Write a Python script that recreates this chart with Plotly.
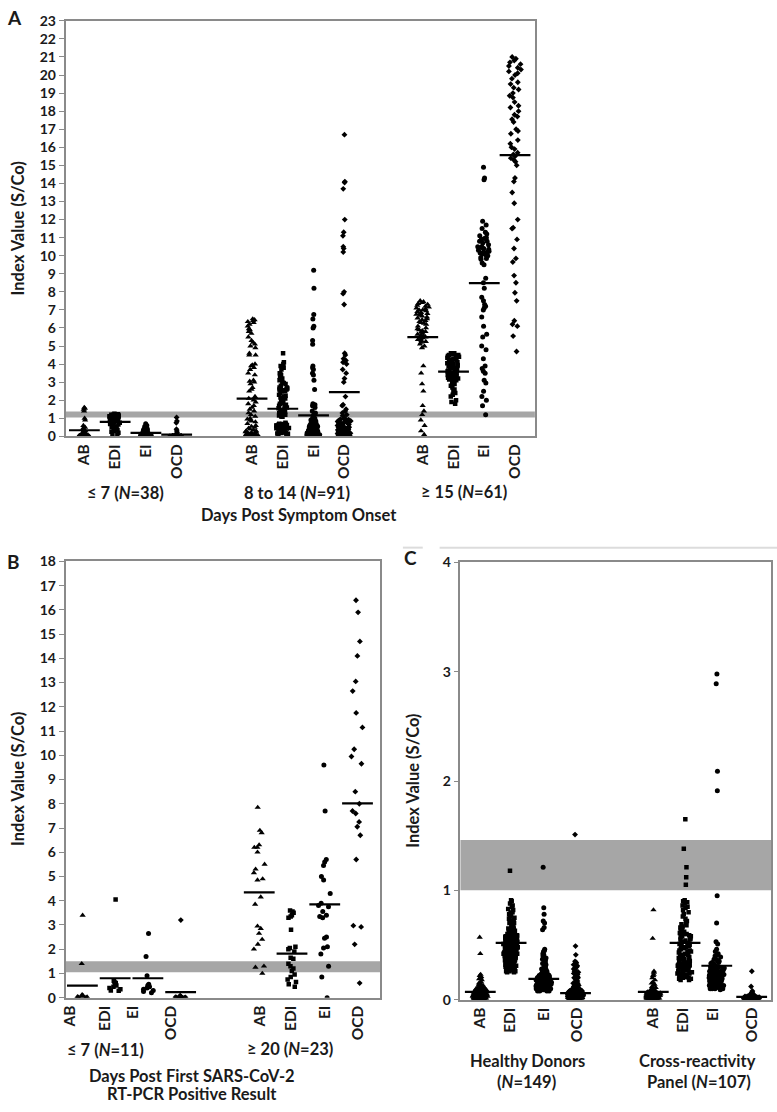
import plotly.graph_objects as go

# ---------------- DATA (Index values S/Co) ----------------
assays = ["AB", "EDI", "EI", "OCD"]

# Panel A: days post symptom onset
a7_ab = [1.6,1.55,1.5,1.4,1.0,0.9,0.6,0.5,0.45,0.4,0.35,0.3,0.3,0.25,0.2,0.2,0.15,0.15,0.1,0.1,0.1,0.08,0.07,0.06,0.05,0.05,0.04,0.04,0.03,0.03,0.03,0.02,0.02,0.02,0.01,0.01,0.01,0.0]
a7_edi = [1.25,1.22,1.2,1.2,1.18,1.15,1.12,1.1,1.1,1.05,1.0,1.0,0.98,0.95,0.95,0.92,0.9,0.88,0.85,0.82,0.8,0.78,0.75,0.7,0.68,0.65,0.6,0.55,0.5,0.48,0.45,0.4,0.35,0.3,0.25,0.2,0.15,0.1]
a7_ei = [0.7,0.6,0.55,0.5,0.45,0.42,0.4,0.35,0.32,0.3,0.28,0.25,0.25,0.22,0.2,0.2,0.18,0.18,0.15,0.15,0.14,0.12,0.12,0.1,0.1,0.1,0.08,0.08,0.07,0.06,0.05,0.05,0.05,0.04,0.04,0.03,0.03,0.02]
a7_ocd = [1.05,0.85,0.75,0.4,0.3,0.2,0.08,0.07,0.06,0.05,0.05,0.04,0.04,0.04,0.03,0.03,0.03,0.03,0.02,0.02,0.02,0.02,0.02,0.02,0.01,0.01,0.01,0.01,0.01,0.01,0.01,0.0,0.0,0.0,0.0,0.0,0.0,0.0]

a14_ab = [6.5,6.45,6.4,6.35,6.3,6.2,6.1,5.95,5.9,5.8,5.7,5.5,5.3,5.2,5.1,5.0,4.9,4.6,4.5,4.5,4.0,3.95,3.9,3.8,3.7,3.5,3.4,3.1,3.05,3.0,2.9,2.7,2.6,2.5,
          2.2,2.1,2.0,1.9,1.8,1.7,1.6,1.5,1.4,1.3,1.2,1.1,1.0,0.95,0.9,0.85,0.8,0.7,0.6,0.55,0.5,0.45,0.4,0.35,0.3,0.3,0.25,0.25,0.2,0.2,0.18,0.15,0.15,0.12,0.1,0.1,0.1,0.08,0.08,0.06,0.06,0.05,0.05,0.04,0.04,0.03,0.03,0.03,0.02,0.02,0.02,0.01,0.01,0.01,0.0,0.0,0.0]
a14_edi = [4.6,4.1,4.0,3.9,3.8,3.7,3.5,3.45,3.4,3.3,
           3.2,3.1,3.0,2.95,2.9,2.8,2.7,2.6,2.55,2.5,
           2.7,2.65,2.6,2.5,2.4,2.3,2.25,2.2,2.15,2.1,
           2.0,1.9,1.85,1.8,1.75,1.7,1.65,1.6,1.55,1.5,
           1.45,1.4,1.35,1.3,1.25,1.2,1.18,1.15,1.1,1.08,
           0.75,0.7,0.68,0.65,0.6,0.58,0.55,0.5,0.5,0.48,
           0.7,0.67,0.65,0.65,0.63,0.6,0.6,0.57,0.55,0.55,
           0.53,0.52,0.5,0.5,0.48,0.47,0.45,0.45,0.44,0.43,
           0.3,0.28,0.25,0.22,0.2,0.18,0.16,0.14,0.12,0.1,
           0.35]
a14_ei = [9.2,8.2,6.75,6.5,6.1,6.0,5.3,5.1,3.9,3.8,3.7,3.5,3.4,3.1,2.6,1.8,1.75,1.7,1.6,
          1.4,1.3,1.2,1.1,1.0,0.95,0.9,0.85,0.8,0.78,0.75,0.72,0.7,0.68,0.65,0.62,0.6,0.58,0.55,0.52,
          0.5,0.48,0.46,0.44,0.42,0.4,0.38,0.36,0.34,0.32,0.3,0.3,0.28,0.27,0.26,0.25,0.24,0.23,0.22,0.21,
          0.2,0.2,0.19,0.18,0.17,0.16,0.15,0.15,0.14,0.13,0.12,0.12,0.11,0.1,0.1,0.09,0.09,0.08,0.08,0.07,
          0.07,0.06,0.06,0.05,0.05,0.05,0.04,0.04,0.03,0.03,0.02,0.02]
a14_ocd = [16.7,14.1,14.05,13.7,12.0,11.3,11.1,10.5,10.4,10.2,8.0,7.9,7.3,
           4.6,4.5,4.3,4.2,4.1,4.0,3.7,3.5,3.2,3.0,2.2,1.75,1.7,1.5,1.4,1.3,1.2,1.15,
           1.0,0.98,0.95,0.92,0.9,0.88,0.85,0.82,0.8,0.78,0.75,0.72,0.7,0.68,0.65,0.62,0.6,0.58,0.55,0.52,
           0.5,0.5,0.48,0.46,0.45,0.44,0.42,0.4,0.38,0.36,0.35,0.34,0.32,0.3,0.3,0.28,0.27,0.26,0.25,0.24,
           0.22,0.2,0.2,0.18,0.17,0.16,0.15,0.14,0.13,0.12,0.11,0.1,0.1,0.09,0.08,0.07,0.06,0.05,0.04,0.03]

a15_ab = [7.5,7.45,7.4,7.35,7.3,7.25,7.2,7.15,7.1,7.05,7.0,7.0,6.95,6.9,6.85,6.8,6.8,6.75,6.7,6.65,
          6.6,6.55,6.5,6.45,6.4,6.35,6.3,6.25,6.2,6.1,6.0,5.95,5.9,5.85,5.8,5.75,5.7,5.65,5.6,5.55,
          5.5,5.45,5.4,5.35,5.3,5.25,5.2,5.1,5.0,4.9,
          3.9,3.5,2.9,2.5,1.7,1.4,1.2,0.9,0.6,0.3,0.1]
a15_edi = [4.6,4.6,4.55,4.5,4.5,4.45,4.4,4.4,4.35,4.3,4.3,4.25,4.2,4.2,4.15,4.1,4.1,4.05,4.0,4.0,
           3.95,3.9,3.9,3.85,3.8,3.8,3.75,3.7,3.7,3.65,3.6,3.6,3.55,3.5,3.5,3.45,3.45,3.4,3.4,3.35,
           3.35,3.3,3.3,3.25,3.25,3.2,3.2,3.15,3.1,
           3.0,2.9,2.8,2.7,2.6,2.5,2.4,2.3,2.2,2.0,1.9,1.8]
a15_ei = [14.9,14.3,14.2,11.9,11.7,11.5,11.3,11.2,11.1,11.0,10.95,10.9,10.8,10.8,10.7,10.6,10.5,10.5,10.45,10.4,
          10.35,10.3,10.25,10.2,10.2,10.15,10.1,10.05,10.0,9.9,9.85,9.8,9.6,9.5,8.75,8.5,8.2,7.7,7.5,7.3,
          7.2,7.1,7.0,6.6,6.1,5.65,5.5,5.0,4.8,4.3,3.9,3.75,3.6,3.5,3.1,2.95,2.5,2.2,2.0,1.7,1.2]
a15_ocd = [21.0,20.9,20.8,20.7,20.6,20.5,20.4,20.3,20.2,20.1,20.0,19.8,19.6,19.5,19.3,19.2,19.0,18.85,18.75,18.5,
           18.3,18.2,18.0,17.8,17.7,17.55,17.4,17.0,16.9,16.75,16.4,16.2,16.0,15.9,15.7,15.6,15.5,15.4,15.3,15.2,
           15.0,14.3,14.1,
           13.5,12.9,12.0,11.55,11.5,10.9,10.4,9.85,9.65,8.9,8.5,7.95,7.5,6.4,6.2,6.1,5.55,4.7]
a_means = [0.34,0.8,0.19,0.1, 2.09,1.53,1.16,2.45, 5.49,3.58,8.48,15.57]

# Panel B: days post first positive RT-PCR
b7_ab = [3.4,1.4,0.12,0.1,0.08,0.06,0.05,0.04,0.03,0.02,0.01]
b7_edi = [4.05,0.7,0.65,0.6,0.55,0.5,0.45,0.4,0.35,0.3,0.28]
b7_ei = [2.65,1.7,0.9,0.55,0.5,0.45,0.4,0.35,0.3,0.25,0.2]
b7_ocd = [3.2,0.08,0.06,0.05,0.04,0.03,0.02,0.02,0.01,0.01,0.0]
b20_ab = [7.85,6.9,6.8,6.3,6.2,6.2,6.0,5.5,5.3,5.15,4.9,4.85,4.15,3.85,2.95,2.85,2.65,2.4,2.2,2.0,1.3,1.25,1.0]
b20_edi = [3.6,3.55,3.5,3.4,3.35,3.3,2.8,2.1,2.05,2.0,1.9,1.65,1.6,1.4,1.3,1.2,1.1,0.95,0.85,0.75,0.65,0.55,0.45]
b20_ei = [9.6,7.7,5.7,5.6,5.45,5.0,4.85,4.3,3.9,3.8,3.75,3.55,3.4,3.35,3.3,2.5,2.45,2.1,2.05,1.8,1.3,0.85,0.0]
b20_ocd = [16.4,15.9,14.7,14.1,13.05,12.65,11.75,11.15,10.25,9.95,9.65,8.5,8.0,7.7,7.6,7.25,7.05,6.7,5.7,2.97,2.92,2.2,0.6]
b_means = [0.5,0.8,0.8,0.23, 4.34,1.82,3.85,8.02]

# Panel C: healthy donors and cross-reactivity panel
c_hd_ab = [.57,.42,.23,.22,.21,.2,.19,.18,
           .16,.15,.15,.14,.14,.13,.13,.12,.12,.12,
           .11,.11,.11,.11,.11,.11,.1,.1,.1,.1,.1,.1,
           .09,.09,.09,.09,.09,.09,.09,.09,.08,.08,.08,.08,.08,.08,.08,.08,
           .07,.07,.07,.07,.07,.07,.07,.07,.07,.07,.06,.06,.06,.06,.06,.06,.06,.06,.06,.06,
           .05,.05,.05,.05,.05,.05,.05,.05,.05,.05,.05,.05,.04,.04,.04,.04,.04,.04,.04,.04,.04,.04,.04,.04,
           .03,.03,.03,.03,.03,.03,.03,.03,.03,.03,.03,.03,.03,.03,.02,.02,.02,.02,.02,.02,.02,.02,.02,.02,.02,.02,.02,.02,
           .01,.01,.01,.01,.01,.01,.01,.01,.01,.01,.01,.01,.01,.01,.01,.01,0,0,0,0,0,0,0,0,0,0,0,0,0,0,0]
c_hd_edi = [1.18,
            .91,.9,.88,.86,.85,.83,.82,.8,.79,.78,
            .77,.76,.75,.74,.73,.72,.71,.7,.7,.69,.68,.67,.66,.65,.65,
            .64,.64,.63,.63,.62,.62,.61,.61,.6,.6,.59,.59,.58,.58,.57,.57,.56,.56,.55,.55,
            .54,.54,.53,.53,.53,.52,.52,.52,.51,.51,.5,.5,.5,.49,.49,.48,.48,.48,.47,.47,.46,.46,.46,.45,.45,
            .44,.44,.43,.43,.43,.42,.42,.42,.41,.41,.4,.4,.4,.39,.39,.38,.38,.38,.37,.37,.36,.36,.36,.35,.35,
            .34,.34,.33,.33,.33,.32,.32,.32,.31,.31,.3,.3,.3,.29,.29,.28,.28,.28,.27,.27,.26,.26,.26,.25,.25,
            .6,.59,.58,.57,.56,.55,.54,.53,.52,.51,
            .5,.5,.49,.48,.47,.46,.45,.44,.43,.42,
            .41,.4,.39,.38,.37,.36,.35,.34]
c_hd_ei = [1.21,.84,.78,.72,.7,.66,.64,
           .46,.45,.44,.42,.41,.4,.38,.37,.36,.35,
           .34,.33,.32,.31,.3,.3,.29,.28,.28,.27,.27,.26,.26,.25,.25,
           .24,.24,.24,.23,.23,.23,.22,.22,.22,.21,.21,.21,.2,.2,.2,
           .19,.19,.19,.19,.18,.18,.18,.18,.17,.17,.17,.17,.16,.16,.16,.16,.15,.15,.15,.15,
           .14,.14,.14,.14,.14,.14,.13,.13,.13,.13,.13,.13,.12,.12,.12,.12,.12,.12,
           .11,.11,.11,.11,.11,.11,.11,.11,.1,.1,.1,.1,.1,.1,.1,.1,
           .09,.09,.09,.09,.09,.09,.08,.08,.08,.08,
           .2,.2,.19,.19,.18,.18,.17,.17,.16,.16,
           .15,.15,.14,.14,.13,.13,.12,.12,.11,.11,
           .22,.21,.2,.19,.18,.17,.16,.15,.14,.13,
           .12,.12,.11,.11,.1,.1,.1,.1]
c_hd_ocd = [1.51,.49,.41,.35,.34,.33,.32,.31,.3,.29,
            .28,.27,.26,.25,.24,.23,.22,.21,.2,.2,
            .19,.18,.17,.16,.15,.15,.14,.14,.13,.13,
            .12,.12,.11,.11,.1,.1,.1,.09,.09,.09,
            .08,.08,.08,.08,.08,.08,.07,.07,.07,.07,.07,.07,.07,.07,
            .06,.06,.06,.06,.06,.06,.06,.06,.06,.06,.05,.05,.05,.05,.05,.05,.05,.05,.05,.05,.05,.05,
            .04,.04,.04,.04,.04,.04,.04,.04,.04,.04,.04,.04,.04,.04,
            .03,.03,.03,.03,.03,.03,.03,.03,.03,.03,.03,.03,.03,.03,.03,.03,
            .02,.02,.02,.02,.02,.02,.02,.02,.02,.02,.02,.02,.02,.02,.02,.02,
            .01,.01,.01,.01,.01,.01,.01,.01,.01,.01,.01,.01,.01,.01,
            0,0,0,0,0,0,0,0,0,0,0,0,0]
c_cr_ab = [.82,.56,.26,.25,.23,.22,.2,.18,.16,.15,
           .14,.13,.12,.11,.1,.1,.09,.09,.08,.08,
           .07,.07,.07,.07,.07,.07,.06,.06,.06,.06,.06,.06,.06,.06,
           .05,.05,.05,.05,.05,.05,.05,.05,.05,.05,.04,.04,.04,.04,.04,.04,.04,.04,.04,.04,.04,.04,
           .03,.03,.03,.03,.03,.03,.03,.03,.03,.03,.03,.03,.02,.02,.02,.02,.02,.02,.02,.02,.02,.02,.02,.02,.02,
           .01,.01,.01,.01,.01,.01,.01,.01,.01,.01,.01,.01,.01,0,0,0,0,0,0,0,0,0,0,0,0,0]
c_cr_edi = [1.65,1.38,1.21,1.12,1.05,
            .91,.9,.89,.88,.86,.85,.84,.82,.8,.78,
            .76,.74,.72,.7,.69,.68,.67,.66,.65,.64,
            .63,.62,.61,.6,.59,.58,.57,.56,.55,.54,
            .53,.52,.51,.5,.5,.49,.48,.47,.46,.45,
            .44,.43,.42,.41,.4,.4,.39,.38,.37,.36,
            .35,.35,.34,.34,.33,.33,.32,.32,.31,.31,
            .3,.3,.29,.29,.28,.28,.27,.27,.26,.26,
            .25,.25,.24,.24,.23,.23,.22,.22,.21,.21,
            .2,.2,.19,.19,.18,.18,.5,.55,.6,.45,.42,.38,
            .58,.52,.48,.44,.41,.37,.33,.3,.27,.24]
c_cr_ei = [2.98,2.89,2.09,1.91,.95,.7,.53,.51,.46,.44,
           .42,.41,.4,.39,.38,.37,.36,.35,.35,.34,
           .34,.33,.33,.32,.32,.31,.31,.3,.3,.29,
           .29,.28,.28,.27,.27,.26,.26,.25,.25,.24,
           .24,.23,.23,.22,.22,.21,.21,.2,.2,.19,
           .19,.18,.18,.17,.17,.16,.16,.15,.15,.14,
           .14,.13,.13,.12,.12,.11,.11,.1,.1,.09,
           .3,.29,.28,.27,.26,.25,.24,.23,.22,.21,
           .2,.19,.18,.17,.16,.15,.14,.13,.12,.11,
           .25,.24,.23,.22,.21,.2,.19,.18,.17,.16,
           .15,.14,.13,.12,.11,.1,.1]
c_cr_ocd = [.26,.12,.08,.07,.06,.06,.05,.05,.04,.04,
            .03,.03,.03,.03,.03,.03,.03,.03,.03,.03,.03,.03,.03,.03,.03,
            .02,.02,.02,.02,.02,.02,.02,.02,.02,.02,.02,.02,.02,.02,.02,.02,.02,.02,.02,.02,.02,.02,
            .01,.01,.01,.01,.01,.01,.01,.01,.01,.01,.01,.01,.01,.01,.01,.01,.01,.01,.01,.01,.01,.01,.01,.01,.01,.01,.01,.01,.01,.01,
            0,0,0,0,0,0,0,0,0,0,0,0,0,0,0,0,0,0,0,0,0,0,0,0,0,0,0,0,0,0]
c_means = [0.07,0.52,0.19,0.06, 0.07,0.52,0.31,0.025]

# grey equivocal bands per panel (low, high)
a_band = [1.05, 1.37]
b_band = [1.05, 1.5]
c_band = [1.0, 1.46]

# ---------------- LAYOUT HELPERS ----------------
W, H = 777, 1112
def px(x):
    return x / W
def py(y):
    return 1 - y / H

symbols = ["triangle-up", "square", "circle", "diamond"]
msizes = [5.5, 4.5, 5, 4.5]
FONT = "Lato"
TXT = "#1a1a1a"
LINE = "#8a8a8a"

panels = [
    dict(xa="x", ya="y",
         series=[a7_ab, a7_edi, a7_ei, a7_ocd, a14_ab, a14_edi, a14_ei, a14_ocd, a15_ab, a15_edi, a15_ei, a15_ocd],
         pos=[0, 1, 2, 3, 5.45, 6.45, 7.45, 8.45, 11, 12, 13, 14],
         tick=[0, 1, 2, 3, 5.45, 6.45, 7.45, 8.45, 11, 12, 13, 14],
         means=a_means, band=a_band, width=0.6, jitter=0.75),
    dict(xa="x2", ya="y2",
         series=[b7_ab, b7_edi, b7_ei, b7_ocd, b20_ab, b20_edi, b20_ei, b20_ocd],
         pos=[0, 1, 2, 3, 5.4, 6.4, 7.4, 8.4],
         tick=[-0.39, 0.7, 1.55, 2.7, 5.42, 6.36, 7.42, 8.42],
         means=b_means, band=b_band, width=0.6, jitter=0.7),
    dict(xa="x3", ya="y3",
         series=[c_hd_ab, c_hd_edi, c_hd_ei, c_hd_ocd, c_cr_ab, c_cr_edi, c_cr_ei, c_cr_ocd],
         pos=[0, 0.97, 2.0, 3.0, 5.45, 6.45, 7.45, 8.55],
         tick=[0, 0.92, 2.0, 3.05, 5.44, 6.4, 7.34, 8.56],
         means=c_means, band=c_band, width=0.7, jitter=0.7),
]

fig = go.Figure()
shapes = []
for p in panels:
    for i, vals in enumerate(p["series"]):
        k = i % 4
        fig.add_trace(go.Box(
            y=vals, x0=p["pos"][i], xaxis=p["xa"], yaxis=p["ya"],
            boxpoints="all", jitter=p["jitter"], pointpos=0, width=p["width"],
            fillcolor="rgba(0,0,0,0)", line=dict(width=0, color="rgba(0,0,0,0)"),
            marker=dict(symbol=symbols[k], size=msizes[k], color="black", line=dict(width=0)),
            name=assays[k], showlegend=False, hoverinfo="y"))
    fig.add_trace(go.Scatter(
        x=p["pos"], y=p["means"], xaxis=p["xa"], yaxis=p["ya"], mode="markers",
        marker=dict(symbol="line-ew", size=22, line=dict(width=2.2, color="black")),
        showlegend=False, hoverinfo="y"))
    shapes.append(dict(type="rect", xref=p["xa"] + " domain", yref=p["ya"],
                       x0=0, x1=1, y0=p["band"][0], y1=p["band"][1],
                       fillcolor="#a6a6a6", line=dict(width=0), layer="below"))

# separator line near panel C
shapes.append(dict(type="line", xref="paper", yref="paper", x0=px(437), x1=px(777), y0=py(547), y1=py(547),
                   line=dict(color="#dcdcdc", width=2)))
shapes.append(dict(type="line", xref="paper", yref="paper", x0=px(400), x1=px(420), y0=py(547), y1=py(547),
                   line=dict(color="#dcdcdc", width=2)))

def xaxis_cfg(dom, rng, tickvals, anchor):
    return dict(domain=dom, range=rng, type="linear", anchor=anchor,
                tickmode="array", tickvals=tickvals, ticktext=assays * (len(tickvals) // 4),
                tickangle=-90, ticks="", showgrid=False, zeroline=False,
                showline=True, mirror=True, linecolor=LINE, linewidth=1.5,
                tickfont=dict(family=FONT, size=15.5, color=TXT, weight="bold"))

def yaxis_cfg(dom, rng, anchor):
    return dict(domain=dom, range=rng, anchor=anchor, dtick=1, tick0=0,
                ticks="outside", ticklen=5, tickcolor=LINE, tickwidth=1,
                showgrid=False, zeroline=False, showline=True, mirror=True,
                linecolor=LINE, linewidth=1.5,
                tickfont=dict(family=FONT, size=14, color=TXT, weight="bold"))

fig.update_layout(
    width=W, height=H, margin=dict(l=0, r=0, t=0, b=0),
    paper_bgcolor="white", plot_bgcolor="white", showlegend=False,
    font=dict(family=FONT, color=TXT),
    xaxis=xaxis_cfg([px(60), px(533)], [-0.613, 14.645], panels[0]["tick"], "y"),
    yaxis=yaxis_cfg([py(434), py(12)], [0, 23], "x"),
    xaxis2=xaxis_cfg([px(60), px(377)], [-0.515, 9.09], panels[1]["tick"], "y2"),
    yaxis2=yaxis_cfg([py(1004), py(561)], [0, 18], "x2"),
    xaxis3=xaxis_cfg([px(458), px(771)], [-0.625, 9.16], panels[2]["tick"], "y3"),
    yaxis3=yaxis_cfg([py(1006), py(562)], [0, 4], "x3"),
    shapes=shapes,
)

def ann(text, x, y, size=16.5, angle=0):
    return dict(text=text, x=px(x), y=py(y), xref="paper", yref="paper", showarrow=False,
                xanchor="center", yanchor="middle", textangle=angle,
                font=dict(family=FONT, size=size, color=TXT, weight="bold"))

annotations = [
    ann("A", 9, 9, 19), ann("B", 8, 561, 19), ann("C", 408, 557, 19),
    ann("Index Value (S/Co)", 12, 223, 16.5, -90),
    ann("Index Value (S/Co)", 12, 782, 16.5, -90),
    ann("Index Value (S/Co)", 410, 784, 16.5, -90),
    ann("≤ 7 (<i>N</i>=38)", 120, 492), ann("8 to 14 (<i>N</i>=91)", 293, 492),
    ann("≥ 15 (<i>N</i>=61)", 462, 491), ann("Days Post Symptom Onset", 295, 514),
    ann("≤ 7 (<i>N</i>=11)", 100, 1057), ann("≥ 20 (<i>N</i>=23)", 286, 1056),
    ann("Days Post First SARS-CoV-2", 187, 1084), ann("RT-PCR Positive Result", 187, 1102),
    ann("Healthy Donors", 526, 1068), ann("(<i>N</i>=149)", 525, 1090),
    ann("Cross-reactivity", 697, 1068), ann("Panel (<i>N</i>=107)", 698, 1090),
]
fig.update_layout(annotations=annotations)

# remove the default page margin so the 777x1112 figure fills the window exactly
fig.write_html("out.html",
               config={"displayModeBar": False},
               post_script="document.body.style.margin='0px';document.body.style.padding='0px';document.body.style.overflow='hidden';")
